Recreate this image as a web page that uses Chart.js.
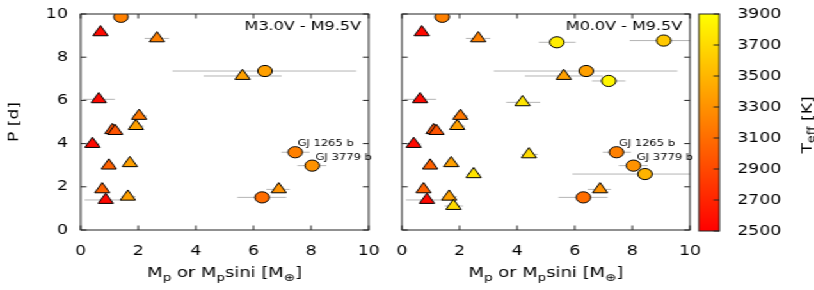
<!DOCTYPE html>
<html>
<head>
<meta charset="utf-8">
<script src="https://cdn.jsdelivr.net/npm/chart.js@4.4.1/dist/chart.umd.min.js"></script>
<style>
  html, body { margin: 0; padding: 0; background: #fff; overflow: hidden; }
  /* the original figure is stretched sideways, so draw narrow and widen it */
  #wrap { position: absolute; left: 0; top: 0; width: 636px; height: 290px;
          transform: scaleX(1.28); transform-origin: 0 0; }
  #wrap canvas { position: absolute; left: 0; top: 0; }
</style>
</head>
<body>
<div id="wrap">
  <canvas id="late" width="636" height="290"></canvas>
  <canvas id="all" width="636" height="290"></canvas>
  <canvas id="cbar" width="636" height="290"></canvas>
</div>
<script>
// planets around M3.0V - M9.5V hosts (shown in both panels)
const lateMass   = [1.40, 0.69, 2.65, 5.62, 6.40, 0.63, 2.03, 1.10, 1.20, 1.92, 0.41, 0.98, 1.71, 0.75, 0.87, 1.64, 6.30, 6.88, 7.45, 8.04];
const latePeriod = [9.87, 9.15, 8.87, 7.13, 7.36, 6.05, 5.28, 4.62, 4.58, 4.81, 3.98, 2.98, 3.09, 1.88, 1.39, 1.54, 1.51, 1.88, 3.60, 2.98];
const lateTeff   = [3200, 2550, 3200, 3380, 3380, 2550, 3160, 2940, 2960, 3380, 2550, 3030, 3380, 3030, 2550, 3380, 3100, 3300, 3200, 3300];
const lateMsini  = [1, 0, 0, 0, 1, 0, 0, 0, 0, 0, 0, 0, 0, 0, 0, 0, 1, 0, 1, 1];
const lateMassLo = [null, null, 2.22, 4.27, 3.19, 0.09, 1.80, null, null, 1.68, 0.17, null, null, null, 0.14, 1.41, 5.44, 6.45, 6.97, 7.53];
const lateMassHi = [null, null, 3.07, 6.98, 9.57, 1.19, 2.30, null, null, 2.19, 0.67, null, null, null, 1.41, 1.91, 7.14, 7.26, 7.95, 8.53];

// extra planets around M0.0V - M2.5V hosts (right panel only)
const earlyMass   = [5.38, 9.09, 7.18, 4.19, 4.41, 2.49, 1.79, 8.44];
const earlyPeriod = [8.69, 8.77, 6.90, 5.91, 3.50, 2.58, 1.11, 2.59];
const earlyTeff   = [3800, 3600, 3850, 3750, 3700, 3750, 3700, 3480];
const earlyMsini  = [1, 1, 1, 0, 0, 0, 0, 1];
const earlyMassLo = [4.75, 7.91, 6.60, 3.62, 4.15, 2.24, 1.48, 5.92];
const earlyMassHi = [6.03, 10.5, 7.76, 4.80, 4.72, 2.72, 2.12, 10.5];

const namedPlanets = ["GJ 1265 b", "GJ 3779 b"];
const namedX = [7.53, 8.16];
const namedY = [3.98, 3.35];

const axisTicks = [0, 2, 4, 6, 8, 10];
const teffTicks = [2500, 2700, 2900, 3100, 3300, 3500, 3700, 3900];

const FONT = "'DejaVu Sans', sans-serif";
const T_MIN = teffTicks[0], T_MAX = teffTicks[teffTicks.length - 1];

function teffColor(t) {
  const f = Math.max(0, Math.min(1, (t - T_MIN) / (T_MAX - T_MIN)));
  return "rgb(255," + Math.round(255 * f) + ",0)";
}

function planetDatasets(mass, period, teff, msini, lo, hi) {
  const sets = [];
  mass.forEach((m, i) => {
    if (lo[i] == null) return;
    sets.push({
      type: "line",
      data: [{ x: lo[i], y: period[i] }, { x: hi[i], y: period[i] }],
      borderColor: "#b4b4b4",
      borderWidth: 1,
      pointRadius: 0,
      clip: 0,
      order: 2
    });
  });
  sets.push({
    type: "scatter",
    data: mass.map((m, i) => ({ x: m, y: period[i] })),
    pointStyle: msini.map(s => s ? "circle" : "triangle"),
    pointRadius: msini.map(s => s ? 5.6 : 6.8),
    backgroundColor: teff.map(teffColor),
    borderColor: "#000",
    borderWidth: 1,
    clip: 0,
    order: 1
  });
  return sets;
}

// draw a string made of normal / subscript pieces, centred on cx, baseline at y
function drawRuns(ctx, runs, cx, y, size) {
  let w = 0;
  runs.forEach(r => {
    ctx.font = (r.sub ? size * 0.75 : size) + "px " + FONT;
    r.w = ctx.measureText(r.t).width;
    w += r.w;
  });
  let x = cx - w / 2;
  ctx.textAlign = "left";
  ctx.textBaseline = "alphabetic";
  runs.forEach(r => {
    ctx.font = (r.sub ? size * 0.75 : size) + "px " + FONT;
    ctx.fillText(r.t, x, y + (r.sub ? size * 0.25 : 0));
    x += r.w;
  });
}

function drawRotated(ctx, runs, cx, cy, size, stretch) {
  ctx.save();
  ctx.translate(cx, cy);
  ctx.rotate(-Math.PI / 2);
  ctx.scale(stretch, 1);
  drawRuns(ctx, runs, 0, size * 0.36, size);
  ctx.restore();
}

// box with inward ticks on all sides
const framePlugin = {
  id: "frame",
  afterDatasetsDraw(chart, args, opts) {
    const { ctx, chartArea: a } = chart;
    const t = 4.5;
    ctx.save();
    ctx.strokeStyle = "#222";
    ctx.lineWidth = 1;
    ctx.strokeRect(a.left, a.top, a.right - a.left, a.bottom - a.top);
    ctx.beginPath();
    const x = chart.scales.x, y = chart.scales.y;
    if (x.type === "linear") {
      x.ticks.forEach(k => {
        const px = x.getPixelForValue(k.value);
        ctx.moveTo(px, a.bottom); ctx.lineTo(px, a.bottom - t);
        ctx.moveTo(px, a.top); ctx.lineTo(px, a.top + t);
      });
    }
    y.ticks.forEach(k => {
      const py = y.getPixelForValue(k.value);
      if (!opts.rightOnly) { ctx.moveTo(a.left, py); ctx.lineTo(a.left + t, py); }
      ctx.moveTo(a.right, py); ctx.lineTo(a.right - t, py);
    });
    ctx.stroke();
    ctx.restore();
  }
};

const panelText = {
  id: "panelText",
  afterDraw(chart, args, opts) {
    const { ctx, chartArea: a } = chart;
    const x = chart.scales.x, y = chart.scales.y;
    ctx.save();
    ctx.fillStyle = "#000";
    if (opts.label) {
      ctx.font = "12.5px " + FONT;
      ctx.textAlign = "right";
      ctx.textBaseline = "middle";
      ctx.fillText(opts.label, a.right - 6, a.top + 13);
    }
    if (opts.names) {
      ctx.font = "9px " + FONT;
      ctx.textAlign = "left";
      ctx.textBaseline = "middle";
      namedPlanets.forEach((n, i) => {
        ctx.fillText(n, x.getPixelForValue(namedX[i]), y.getPixelForValue(namedY[i]));
      });
    }
    if (opts.xTitle) {
      drawRuns(ctx, [
        { t: "M" }, { t: "p", sub: true }, { t: " or M" }, { t: "p", sub: true },
        { t: "sini [M" }, { t: "\u2295", sub: true }, { t: "]" }
      ], (a.left + a.right) / 2, 277, 14);
    }
    if (opts.yTitle) {
      drawRotated(ctx, [{ t: "P [d]" }], 10, (a.top + a.bottom) / 2, 10.5, 1.63);
    }
    if (opts.cTitle) {
      drawRotated(ctx, [{ t: "T" }, { t: "eff", sub: true }, { t: " [K]" }], 630, 125, 10.5, 1.63);
    }
    ctx.restore();
  }
};

// keep tick labels from pushing the plot box around
function noOverflow(s) {
  s.paddingTop = 0; s.paddingBottom = 0;
  s.paddingLeft = 0; s.paddingRight = 0;
}

function panelScales(showY) {
  const tickFont = { family: FONT, size: 13.5 };
  return {
    x: {
      type: "linear", min: 0, max: 10,
      afterBuildTicks: s => { s.ticks = axisTicks.map(v => ({ value: v })); },
      ticks: { color: "#000", font: tickFont, padding: 13, maxRotation: 0 },
      grid: { display: false, drawTicks: false },
      border: { display: false },
      afterFit: s => { s.height = 60; noOverflow(s); }
    },
    y: {
      type: "linear", min: 0, max: 10,
      afterBuildTicks: s => { s.ticks = axisTicks.map(v => ({ value: v })); },
      ticks: { display: showY, color: "#000", font: tickFont, padding: 10 },
      grid: { display: false, drawTicks: false },
      border: { display: false },
      afterFit: s => { s.width = showY ? 63 : 0; noOverflow(s); }
    }
  };
}

function makePanel(id, datasets, padLeft, padRight, text) {
  return new Chart(document.getElementById(id), {
    data: { datasets },
    options: {
      responsive: false,
      devicePixelRatio: 1,
      animation: false,
      events: [],
      layout: { padding: { left: padLeft, right: padRight, top: 14, bottom: 0 } },
      plugins: {
        legend: { display: false },
        tooltip: { enabled: false },
        frame: {},
        panelText: text
      },
      scales: panelScales(padLeft === 0)
    },
    plugins: [framePlugin, panelText]
  });
}

makePanel("late",
  planetDatasets(lateMass, latePeriod, lateTeff, lateMsini, lateMassLo, lateMassHi),
  0, 348, { label: "M3.0V - M9.5V", names: true, xTitle: true, yTitle: true });

makePanel("all",
  planetDatasets(lateMass.concat(earlyMass), latePeriod.concat(earlyPeriod),
    lateTeff.concat(earlyTeff), lateMsini.concat(earlyMsini),
    lateMassLo.concat(earlyMassLo), lateMassHi.concat(earlyMassHi)),
  314, 97, { label: "M0.0V - M9.5V", names: true, xTitle: true });

// colour bar
new Chart(document.getElementById("cbar"), {
  type: "bar",
  data: {
    labels: ["Teff"],
    datasets: [{
      data: [[T_MIN, T_MAX]],
      backgroundColor: c => {
        const a = c.chart.chartArea;
        if (!a) return teffColor(T_MIN);
        const g = c.chart.ctx.createLinearGradient(0, a.bottom, 0, a.top);
        g.addColorStop(0, teffColor(T_MIN));
        g.addColorStop(1, teffColor(T_MAX));
        return g;
      },
      borderWidth: 0,
      barPercentage: 1,
      categoryPercentage: 1
    }]
  },
  options: {
    responsive: false,
    devicePixelRatio: 1,
    animation: false,
    events: [],
    layout: { padding: { left: 546, right: 0, top: 14, bottom: 59 } },
    plugins: {
      legend: { display: false },
      tooltip: { enabled: false },
      frame: { rightOnly: true },
      panelText: { cTitle: true }
    },
    scales: {
      x: { display: false },
      y: {
        position: "right", min: T_MIN, max: T_MAX,
        afterBuildTicks: s => { s.ticks = teffTicks.map(v => ({ value: v })); },
        ticks: { color: "#000", font: { family: FONT, size: 13.5 }, padding: 14, callback: v => String(v) },
        grid: { display: false, drawTicks: false },
        border: { display: false },
        afterFit: s => { s.width = 636 - 562; noOverflow(s); }
      }
    }
  },
  plugins: [framePlugin, panelText]
});
</script>
</body>
</html>
